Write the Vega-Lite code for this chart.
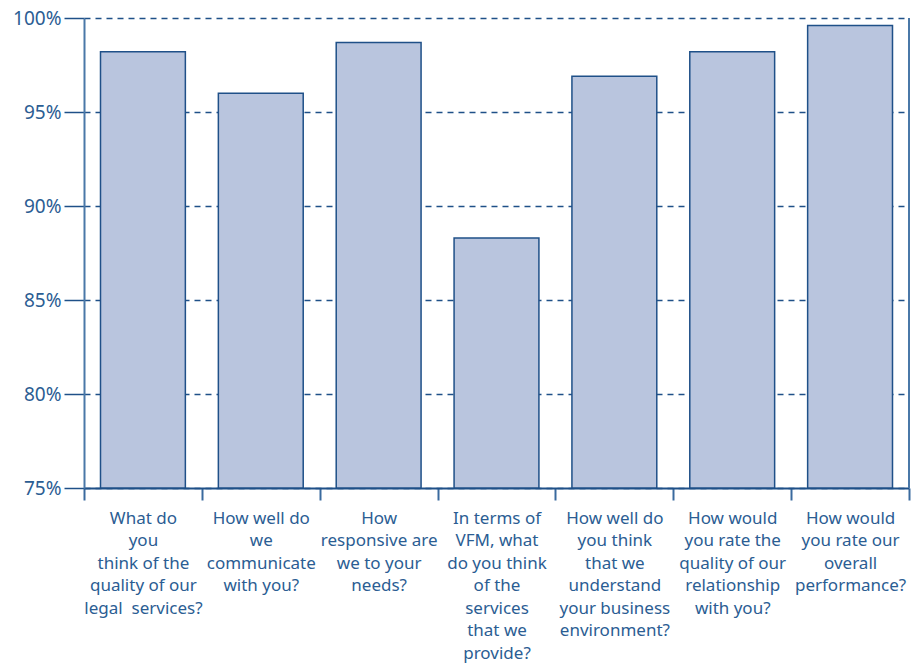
{
  "$schema": "https://vega.github.io/schema/vega-lite/v6.json",
  "width": 825,
  "height": 470,
  "autosize": {"type": "none"},
  "padding": {"left": 84, "top": 18, "right": 5, "bottom": 176},
  "background": "white",
  "data": {
    "values": [
      {"q": "What do|you|think of the|quality of our|legal\u00a0 services?", "v": 0.982},
      {"q": "How well do|we|communicate|with you?", "v": 0.960},
      {"q": "How|responsive are|we to your|needs?", "v": 0.987},
      {"q": "In terms of|VFM, what|do you think|of the|services|that we|provide?", "v": 0.883},
      {"q": "How well do|you think|that we|understand|your business|environment?", "v": 0.969},
      {"q": "How would|you rate the|quality of our|relationship|with you?", "v": 0.982},
      {"q": "How would|you rate our|overall|performance?", "v": 0.996}
    ]
  },
  "config": {
    "view": {"stroke": null},
    "font": "Noto Sans"
  },
  "layer": [
    {
      "mark": {"type": "bar", "fill": "#b9c5de", "stroke": "#1f5088", "strokeWidth": 1.5, "width": {"band": 0.72}},
      "encoding": {
        "x": {
          "field": "q", "type": "nominal", "sort": null,
          "scale": {"paddingInner": 0, "paddingOuter": 0},
          "axis": {
            "title": null,
            "labelAngle": 0,
            "labelExpr": "split(datum.label, '|')",
            "labelFontSize": 17,
            "labelLineHeight": 22.5,
            "labelColor": "#2b5d93",
            "labelPadding": 10,
            "labelLimit": 0,
            "tickBand": "extent",
            "tickSize": 12,
            "tickColor": "#3a6a9e",
            "tickWidth": 2,
            "domainColor": "#1f5088",
            "domainWidth": 2,
            "labelBaseline": "top",
            "labelAlign": "center"
          }
        },
        "y": {
          "field": "v", "type": "quantitative",
          "scale": {"domain": [0.75, 1], "zero": false, "nice": false},
          "axis": {
            "title": null,
            "values": [0.75, 0.8, 0.85, 0.9, 0.95, 1.0],
            "format": ".0%",
            "labelFontSize": 19,
            "labelColor": "#2b5d93",
            "labelPadding": 3,
            "tickSize": 20,
            "tickColor": "#1f5088",
            "tickWidth": 1.5,
            "domainColor": "#4a78a8",
            "domainWidth": 2,
            "grid": true,
            "gridColor": "#1f5088",
            "gridDash": [6, 5],
            "gridWidth": 1.3,
            "zindex": 0
          }
        },
        "y2": {"datum": 0.75}
      }
    },
    {
      "mark": {"type": "rule", "color": "#4a78a8", "strokeWidth": 2},
      "encoding": {
        "x": {"value": 825},
        "y": {"value": 0},
        "y2": {"value": 470}
      }
    }
  ]
}
